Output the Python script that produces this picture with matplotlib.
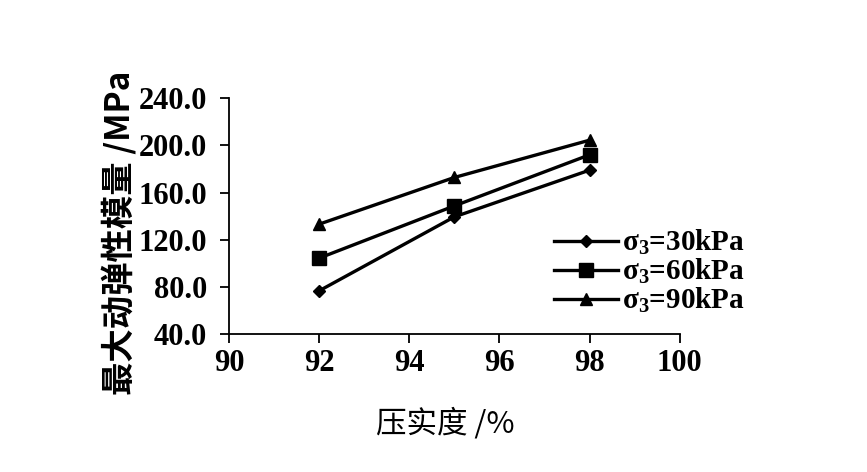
import matplotlib
matplotlib.use("Agg")
import matplotlib.pyplot as plt
from matplotlib.ticker import FormatStrFormatter

compaction = [92, 95, 98]
s30 = [76.7, 139.4, 179.0]
s60 = [104.4, 148.7, 192.0]
s90 = [133.2, 172.8, 204.4]
labels = ["30kPa", "60kPa", "90kPa"]
xticks = [90, 92, 94, 96, 98, 100]
yticks = [40, 80, 120, 160, 200, 240]

plt.rcParams['font.family'] = ['Liberation Serif', 'Noto Sans CJK SC']
plt.rcParams['mathtext.fontset'] = 'custom'
plt.rcParams['mathtext.rm'] = 'Liberation Serif'
plt.rcParams['mathtext.it'] = 'Liberation Serif'

fig = plt.figure(figsize=(8.67, 4.72), dpi=100)
ax = fig.add_axes([0.264, 0.292, 0.52, 0.50])

markers = ['D', 's', '^']
sizes = [6, 10, 9]
for ys, m, ms, lab in zip([s30, s60, s90], markers, sizes, labels):
    ax.plot(compaction, ys, color='black', lw=2.4, marker=m, ms=ms,
            label=r'σ$_{\mathregular{3}}$=' + lab)

ax.set_xlim(90, 100)
ax.set_ylim(40, 240)
ax.set_xticks(xticks)
ax.set_yticks(yticks)
ax.yaxis.set_major_formatter(FormatStrFormatter('%.1f'))
ax.spines['top'].set_visible(False)
ax.spines['right'].set_visible(False)
ax.spines['left'].set_linewidth(1.3)
ax.spines['bottom'].set_linewidth(1.3)
ax.tick_params(axis='both', labelsize=22, direction='out', length=6.5, width=1.3)
ax.tick_params(axis='y', pad=9)
ax.tick_params(axis='x', pad=4)
for t in ax.get_xticklabels() + ax.get_yticklabels():
    t.set_fontweight('semibold')

ax.set_xlabel('压实度 /%', fontsize=22, family=['Noto Sans CJK SC', 'Liberation Serif'])
ax.xaxis.set_label_coords(0.479, -0.31)
ax.set_ylabel('最大动弹性模量 /MPa', fontsize=24, family=['Noto Sans CJK SC', 'Liberation Serif'],
              fontweight='bold')
ax.yaxis.set_label_coords(-0.206, 0.43)

leg = ax.legend(loc='center left', bbox_to_anchor=(0.695, 0.265), frameon=False,
                fontsize=21, handlelength=2.2, handletextpad=0.15,
                labelspacing=0.0, borderaxespad=0)
for t in leg.get_texts():
    t.set_fontweight('bold')

fig.savefig('out.png', dpi=100)
